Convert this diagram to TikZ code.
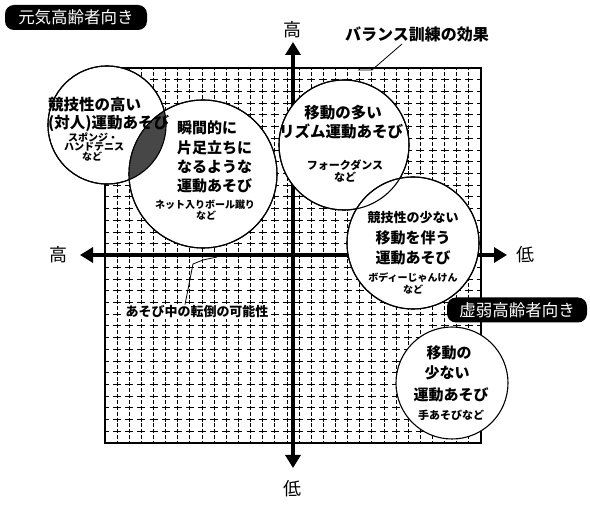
\documentclass[tikz,border=0pt]{standalone}
\usepackage{fontspec}
\setmainfont{Noto Sans CJK JP}
\usetikzlibrary{arrows.meta}
\begin{document}
\begin{tikzpicture}[x=1pt,y=-1pt,
  bubble/.style={circle,draw,line width=1.1pt,fill=white,inner sep=0pt},
  rim/.style={line width=1.1pt},
  mainA/.style={font=\bfseries\fontsize{15.5}{15.5}\selectfont,inner sep=0pt},
  mainB/.style={font=\bfseries\fontsize{15}{15}\selectfont,inner sep=0pt},
  mainC/.style={font=\bfseries\fontsize{13}{13}\selectfont,inner sep=0pt},
  smallA/.style={font=\bfseries\fontsize{10}{10}\selectfont,inner sep=0pt},
  smallB/.style={font=\bfseries\fontsize{11}{11}\selectfont,inner sep=0pt},
  hgrid/.style={dash pattern=on 8pt off 4.13pt,dash phase=4pt,line width=0.9pt},
  vgrid/.style={dash pattern=on 4pt off 1.86pt,dash phase=2pt,line width=0.9pt},
  axisline/.style={line width=4.5pt,{Triangle[length=13pt,width=15pt]}-{Triangle[length=13pt,width=15pt]}},
  badge/.style={fill=black,text=white,rounded corners=9pt,font=\fontsize{16.5}{16.5}\selectfont,minimum height=25pt,inner sep=0pt},
  axlabel/.style={font=\fontsize{18}{18}\selectfont,inner sep=0pt},
  leader/.style={line width=0.8pt}]
\useasboundingbox (0,0) rectangle (590,505);
% grid
\foreach \i in {1,...,30} \draw[vgrid] ({105+\i*12.13},68) -- ({105+\i*12.13},443);
\foreach \j in {1,...,31} \draw[hgrid] (105,{68+\j*11.72}) -- (481,{68+\j*11.72});
\node[draw,line width=1.5pt,minimum width=376pt,minimum height=375pt,inner sep=0pt] (frame) at (293,255.5) {};
% axes
\coordinate (yt) at (293,42);
\coordinate (yb) at (293,468);
\coordinate (xl) at (80,255);
\coordinate (xr) at (507,255);
\draw[axisline] (yb) -- (yt);
\draw[axisline] (xl) -- (xr);
% circles
\node[bubble,minimum size=118pt] (c1) at (107,125) {};
\node[bubble,minimum size=148pt] (c2) at (203,174) {};
\node[bubble,minimum size=130pt] (c3) at (344,145) {};
\node[bubble,minimum size=132pt] (c4) at (413,243) {};
\node[bubble,minimum size=112pt] (c5) at (452,383) {};
\begin{scope}
  \clip (c1.center) circle[radius=59pt];
  \fill[black!72] (c2.center) circle[radius=74pt];
\end{scope}
\draw[rim] (c1.center) circle[radius=59pt];
\draw[rim] (c2.center) circle[radius=74pt];
\draw[rim] (c3.center) circle[radius=65pt];
\draw[rim] (c4.center) circle[radius=66pt];
% circle texts
\node[mainA,anchor=west] (t1a) at (48,105) {競技性の高い};
\node[mainA,anchor=west] (t1b) at (48,123) {(対人)運動あそび};
\node[smallA] (t1c) at (93,137) {スポンジ・};
\node[smallA] (t1d) at (94,147) {ハンドテニス};
\node[smallA] (t1e) at (92,157) {など};
\node[mainB,anchor=west] (t2a) at (177,128) {瞬間的に};
\node[mainB,anchor=west] (t2b) at (177,148) {片足立ちに};
\node[mainB,anchor=west] (t2c) at (177,167) {なるような};
\node[mainB,anchor=west] (t2d) at (177,186) {運動あそび};
\node[smallA] (t2e) at (205,205) {ネット入りボール蹴り};
\node[smallA] (t2f) at (206,216) {など};
\node[mainA] (t3a) at (343,113) {移動の多い};
\node[mainA] (t3b) at (341,132) {リズム運動あそび};
\node[smallB] (t3c) at (345,165) {フォークダンス};
\node[smallB] (t3d) at (345,177) {など};
\node[mainC] (t4a) at (413,218) {競技性の少ない};
\node[mainB] (t4b) at (413,238) {移動を伴う};
\node[mainB] (t4c) at (413,258) {運動あそび};
\node[smallA] (t4d) at (413,278) {ボディーじゃんけん};
\node[smallA] (t4e) at (413,290) {など};
\node[mainB] (t5a) at (449,353) {移動の};
\node[mainB] (t5b) at (447,373) {少ない};
\node[mainB] (t5c) at (451,395) {運動あそび};
\node[smallB] (t5d) at (451,415) {手あそびなど};
% badges
\node[badge,minimum width=142pt] (genki) at (76,17.5) {元気高齢者向き};
\node[badge,minimum width=140pt] (kyojaku) at (517,310) {虚弱高齢者向き};
% axis labels
\node[axlabel] (ytl) at (292,30) {高};
\node[axlabel] (ybl) at (292,489) {低};
\node[axlabel] (xll) at (58,255) {高};
\node[axlabel] (xrl) at (525,255) {低};
% annotations
\node[font=\bfseries\fontsize{16}{16}\selectfont,inner sep=0pt] (bal) at (417,34) {バランス訓練の効果};
\coordinate (b0) at (402,44);
\coordinate (b1) at (372,70);
\coordinate (b2) at (358,70);
\draw[leader] (b0) -- (b1) -- (b2);
\node[font=\bfseries\fontsize{13}{13}\selectfont,fill=white,inner sep=1pt] (fall) at (197,312) {あそび中の転倒の可能性};
\coordinate (f1) at (193,264);
\coordinate (f2) at (203,260);
\coordinate (f3) at (217,257);
\draw[leader] (fall.north -| 185,0) -- (f1) -- (f2) -- (f3);
\end{tikzpicture}
\end{document}
